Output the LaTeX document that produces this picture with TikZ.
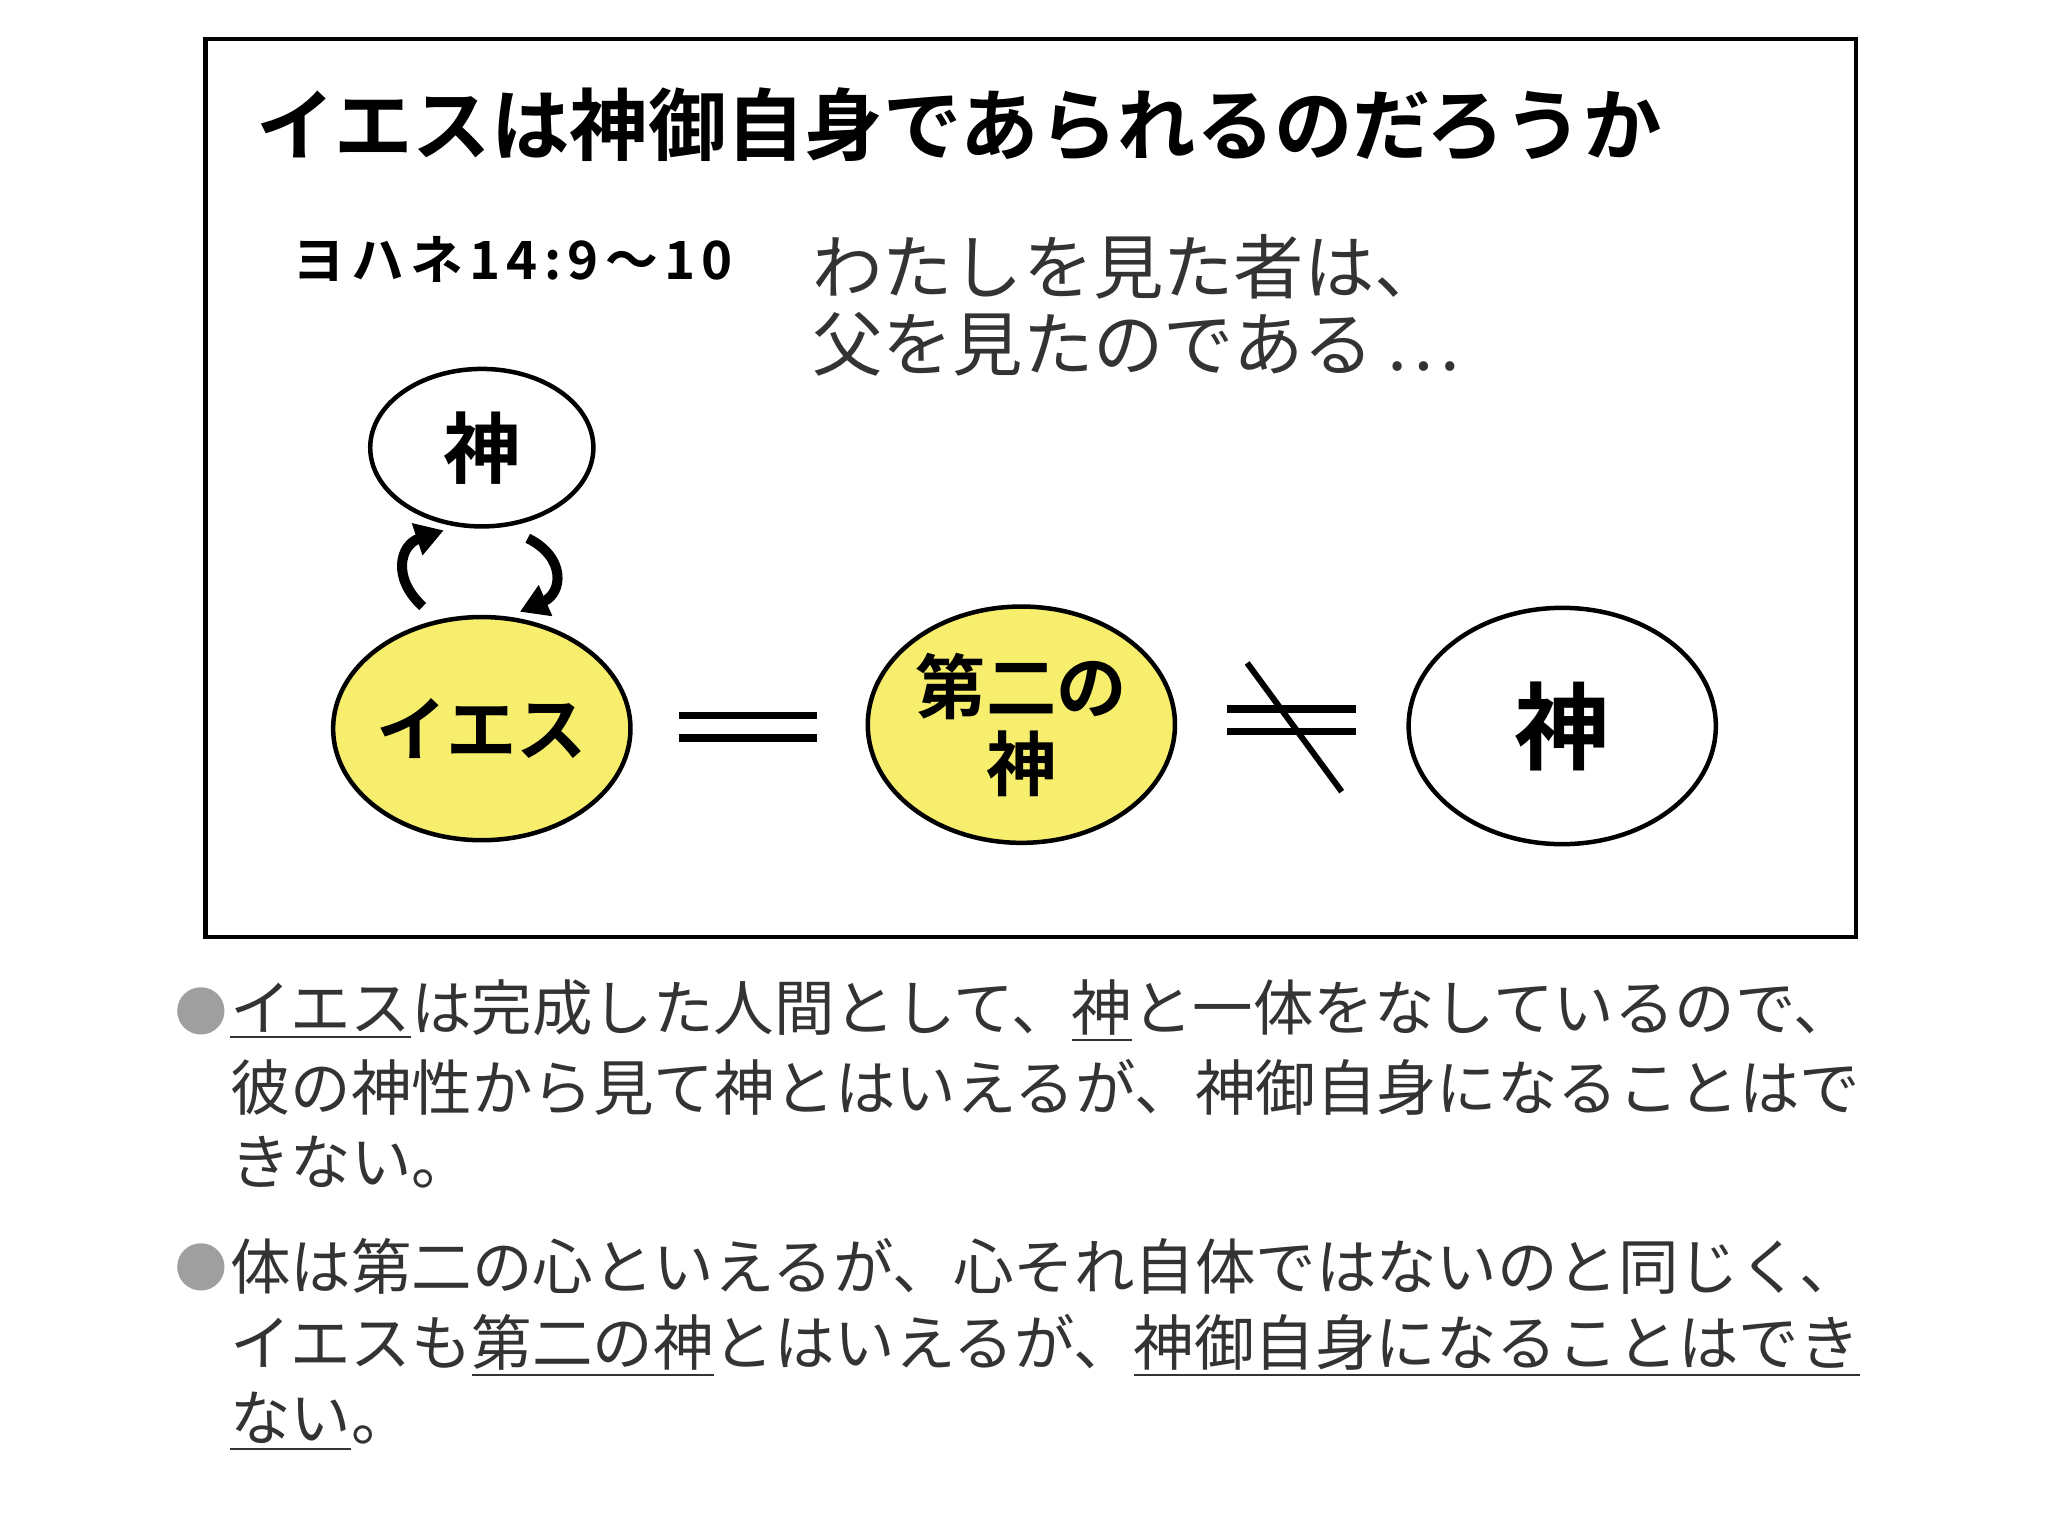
\documentclass[tikz,border=0pt]{standalone}
\usepackage{fontspec}
\newfontfamily\jp{Noto Sans CJK JP}
\newfontfamily\jpb{Noto Sans CJK JP Bold}
\newfontfamily\jpbs[LetterSpace=12]{Noto Sans CJK JP Bold}
\usetikzlibrary{shapes.geometric,arrows.meta}
\definecolor{yel}{HTML}{F6EE6C}
\definecolor{txt}{HTML}{333333}
\tikzset{
 ell/.style={ellipse,draw,line width=0.045cm,inner sep=0pt},
 bul/.style={anchor=west,inner sep=0pt,text=txt,font=\jp\fontsize{17.2}{17.2}\selectfont},
 arr/.style={line width=0.1cm,-{Triangle[length=0.28cm,width=0.32cm]}},
 bar/.style={line width=0.075cm},
}
\begin{document}
\begin{tikzpicture}[x=0.013128cm,y=-0.013128cm]
\useasboundingbox (0,0) rectangle (1560,1170);
\fill[white] (0,0) rectangle (1560,1170);
\node[draw,line width=0.045cm,minimum width=1257*0.013128cm,minimum height=684*0.013128cm,anchor=north west,inner sep=0pt] (frame) at (155,28) {};
\node[anchor=west,inner sep=0pt,font=\jpb\fontsize{22.3}{22.3}\selectfont] (title) at (195,95) {イエスは神御自身であられるのだろうか};
\node[anchor=west,inner sep=0pt,font=\jpbs\fontsize{15}{15}\selectfont] (ref) at (222,198) {ヨハネ14:9〜10};
\node[anchor=west,inner sep=0pt,text=txt,font=\jp\fontsize{20}{20}\selectfont] (q1) at (618,203) {わたしを見た者は、};
\node[anchor=west,inner sep=0pt,text=txt,font=\jp\fontsize{20}{20}\selectfont] (q2) at (618,262) {父を見たのである\,⋯};
\node[ell,minimum width=170*0.013128cm,minimum height=120*0.013128cm,font=\jpb\fontsize{22}{22}\selectfont] (god1) at (367,341) {神};
\node[ell,fill=yel,minimum width=220*0.013128cm,minimum height=170*0.013128cm,font=\jpb\fontsize{20}{20}\selectfont] (jesus) at (367,555) {イエス};
\node[ell,fill=yel,minimum width=234*0.013128cm,minimum height=180*0.013128cm,font=\jpb\fontsize{20}{22}\selectfont,align=center] (second) at (778,552) {第二の\\神};
\node[ell,minimum width=234*0.013128cm,minimum height=180*0.013128cm,font=\jpb\fontsize{27}{27}\selectfont] (god2) at (1190,553) {神};
\coordinate (a1s) at (322,462); \coordinate (a1e) at (338,404);
\coordinate (a2s) at (402,410); \coordinate (a2e) at (396,466);
\draw[arr] (a1s) .. controls (298,440) and (305,415) .. (a1e);
\draw[arr] (a2s) .. controls (432,425) and (428,452) .. (a2e);
\coordinate (e1) at (517,545); \coordinate (e2) at (622,545);
\coordinate (e3) at (517,562); \coordinate (e4) at (622,562);
\draw[bar] (e1) -- (e2); \draw[bar] (e3) -- (e4);
\coordinate (n1) at (935,540); \coordinate (n2) at (1033,540);
\coordinate (n3) at (935,557); \coordinate (n4) at (1033,557);
\coordinate (n5) at (950,505); \coordinate (n6) at (1022,603);
\draw[bar] (n1) -- (n2); \draw[bar] (n3) -- (n4); \draw[bar,line width=0.06cm] (n5) -- (n6);
\fill[gray!75] (153,770) circle (18) coordinate (b1);
\fill[gray!75] (153,965) circle (18) coordinate (b2);
\node[bul] (l1) at (175,770) {\underline{イエス}は完成した人間として、\underline{神}と一体をなしているので、};
\node[bul] (l2) at (175,828) {彼の神性から見て神とはいえるが、神御自身になることはで};
\node[bul] (l3) at (175,885) {きない。};
\node[bul] (l4) at (175,965) {体は第二の心といえるが、心それ自体ではないのと同じく、};
\node[bul] (l5) at (175,1025) {イエスも\underline{第二の神}とはいえるが、\underline{神御自身になることはでき}};
\node[bul] (l6) at (175,1083) {\underline{ない}。};
\end{tikzpicture}
\end{document}
